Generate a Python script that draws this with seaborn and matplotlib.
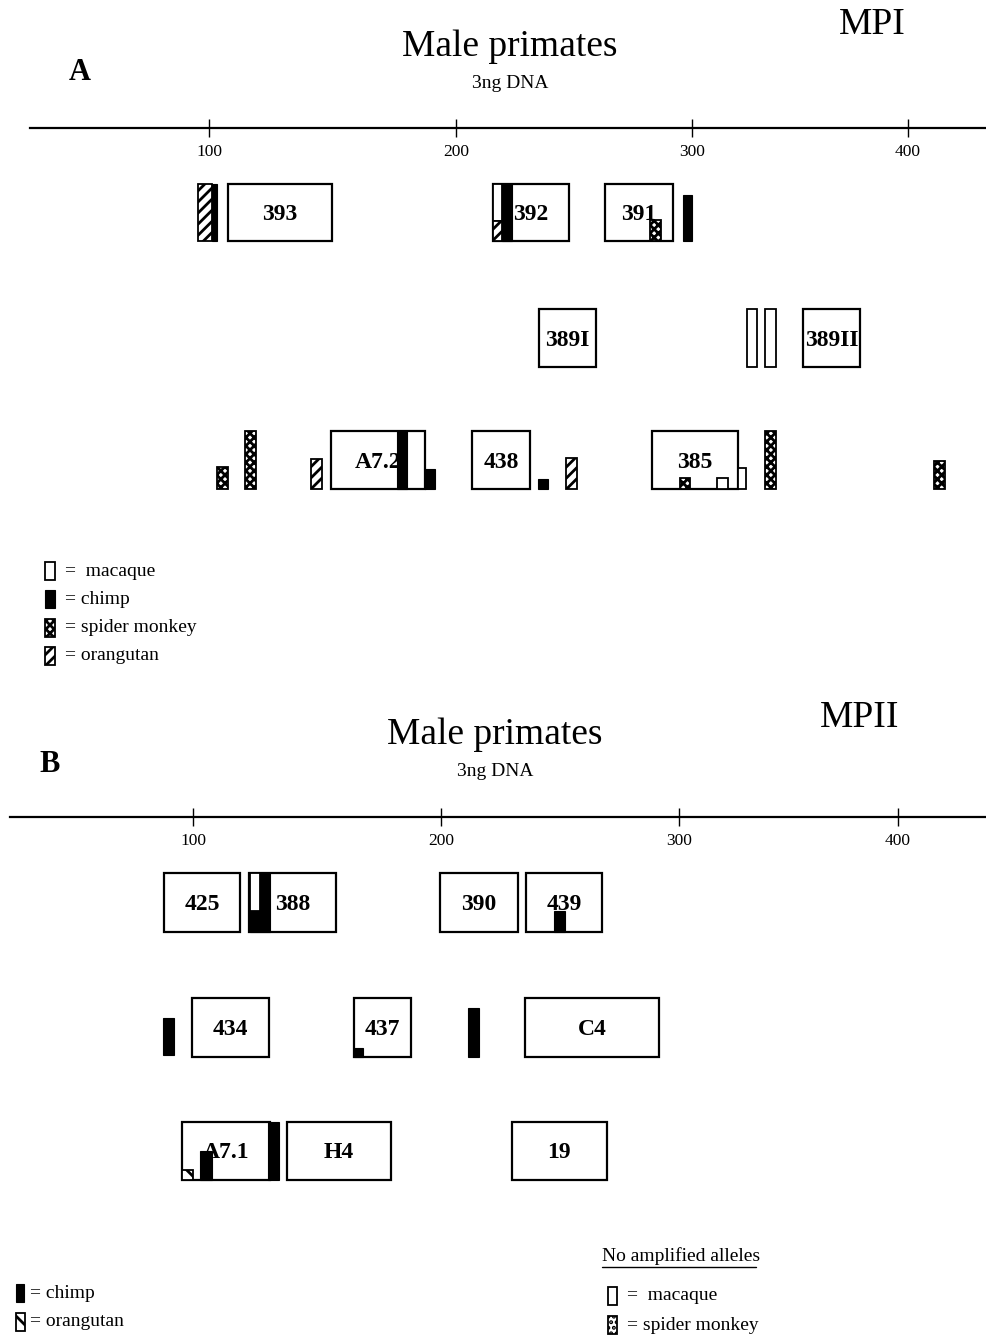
import matplotlib
matplotlib.use("Agg")

import matplotlib.pyplot as plt
import numpy as np
import seaborn as sns
from matplotlib.patches import Rectangle

# --- data -----------------------------------------------------------------
TICKS = [100, 200, 300, 400]

# panel A (MPI): loci with amplified fragments, size in bp
LOCI_A = ["393", "392", "391", "389I", "389II", "A7.2", "438", "385"]
START_A = [107.7, 215.7, 263.1, 235.2, 351.4, 149.4, 206.8, 283.1]
END_A = [149.8, 247.9, 291.9, 259.3, 377.8, 187.4, 231.4, 321.3]
ROW_A = [0, 0, 0, 1, 1, 2, 2, 2]

# panel A: primate alleles
MARK_A_SPECIES = ["orangutan", "chimp", "macaque", "orangutan", "chimp", "spider", "chimp",
                  "macaque", "macaque",
                  "spider", "spider", "orangutan", "chimp", "chimp", "chimp", "orangutan",
                  "spider", "macaque", "macaque", "spider", "spider"]
MARK_A_START = [95.5, 101.2, 215.7, 215.7, 219.5, 282.2, 296.2,
                325.5, 333.8,
                103.2, 114.6, 141.3, 176.1, 187.4, 234.7, 246.6,
                295.0, 311.6, 321.3, 333.8, 412.0]
MARK_A_END = [101.2, 103.2, 219.5, 219.5, 223.7, 286.9, 300.0,
              330.1, 338.9,
              107.7, 119.0, 145.7, 180.2, 191.5, 238.9, 251.3,
              299.2, 316.7, 325.0, 338.9, 417.1]
MARK_A_ROW = [0, 0, 0, 0, 0, 0, 0, 1, 1, 2, 2, 2, 2, 2, 2, 2, 2, 2, 2, 2, 2]
MARK_A_LO = [0, 0, 0.35, 0, 0, 0, 0, 0, 0, 0, 0, 0, 0, 0, 0, 0, 0, 0, 0, 0, 0]
MARK_A_HI = [1, 1, 1, 0.35, 1, 0.36, 0.81, 1, 1,
             0.38, 1, 0.52, 1, 0.35, 0.17, 0.53, 0.19, 0.19, 0.36, 1, 0.48]

# panel B (MPII)
LOCI_B = ["425", "388", "390", "439", "434", "437", "C4", "A7.1", "H4", "19"]
START_B = [88.3, 122.6, 199.6, 235.7, 99.6, 164.9, 235.3, 95.6, 137.9, 229.8]
END_B = [119.0, 157.7, 232.4, 267.6, 130.6, 187.9, 291.6, 131.0, 179.8, 269.7]
ROW_B = [0, 0, 0, 0, 1, 1, 1, 2, 2, 2]

MARK_B_SPECIES = ["chimp", "macaque", "chimp", "chimp", "chimp", "chimp",
                  "orangutan", "chimp", "chimp"]
MARK_B_START = [123.0, 123.0, 247.5, 87.9, 164.9, 211.3, 95.6, 102.8, 130.2]
MARK_B_END = [131.0, 127.0, 252.1, 92.3, 168.5, 215.9, 100.0, 107.7, 134.7]
MARK_B_ROW = [0, 0, 0, 1, 1, 1, 2, 2, 2]
MARK_B_LO = [0, 0.36, 0, 0.03, 0, 0, 0, 0, 0]
MARK_B_HI = [1, 1, 0.36, 0.66, 0.16, 0.83, 0.17, 0.5, 1]

# --- layout (pixels of the 987x1336 page) ---------------------------------
W, H = 987, 1336
SPLIT = 690
TICK_PX_A = [209, 456, 692, 908]   # scanned axis is not quite linear
TICK_PX_B = [193, 441, 679, 898]
ROWS_A = [(184, 241), (309, 367), (431, 489)]
ROWS_B = [(873, 932), (998, 1057), (1122, 1180)]

sns.set_theme(style="white")
plt.rcParams["font.family"] = ["Liberation Serif", "DejaVu Serif"]
plt.rcParams["text.color"] = "black"
plt.rcParams["xtick.color"] = "black"
plt.rcParams["hatch.linewidth"] = 2.0


def style(species, orang_hatch):
    if species == "chimp":
        return dict(facecolor="black", edgecolor="black", linewidth=0.8)
    if species == "macaque":
        return dict(facecolor="white", edgecolor="black", linewidth=1.3)
    if species == "spider":
        return dict(facecolor="white", edgecolor="black", linewidth=1.3, hatch="xxxx")
    return dict(facecolor="white", edgecolor="black", linewidth=1.3, hatch=orang_hatch)


def piecewise(knots_bp, knots_px):
    bp = np.asarray(knots_bp, float)
    px = np.asarray(knots_px, float)
    s0 = (px[1] - px[0]) / (bp[1] - bp[0])
    s1 = (px[-1] - px[-2]) / (bp[-1] - bp[-2])
    bp_ext = np.concatenate([[bp[0] - 1000], bp, [bp[-1] + 1000]])
    px_ext = np.concatenate([[px[0] - 1000 * s0], px, [px[-1] + 1000 * s1]])
    return (lambda x: np.interp(x, bp_ext, px_ext),
            lambda y: np.interp(y, px_ext, bp_ext))


def draw_panel(ax, tick_px, axis_y, axis_x0, y_range, rows,
               loci, starts, ends, loc_rows,
               sp, ms, me, mr, lo, hi, orang_hatch):
    fwd, inv = piecewise(TICKS, tick_px)
    ax.set_xscale("function", functions=(fwd, inv))
    ax.set_xlim(inv(0), inv(W))
    ax.set_ylim(y_range[1], y_range[0])
    ax.set_facecolor("none")

    for side in ["top", "left", "right"]:
        ax.spines[side].set_visible(False)
    sp_b = ax.spines["bottom"]
    sp_b.set_position(("data", axis_y))
    sp_b.set_bounds(inv(axis_x0), inv(W))
    sp_b.set_linewidth(1.6)
    sp_b.set_color("black")
    ax.set_yticks([])
    ax.set_xticks(TICKS)
    ax.set_xticklabels([str(t) for t in TICKS])
    ax.tick_params(axis="x", direction="inout", length=13, width=1.0,
                   colors="black", labelsize=12.5, pad=5, bottom=True)

    tops = np.array([rows[r][0] for r in loc_rows])
    heights = np.array([rows[r][1] - rows[r][0] for r in loc_rows])
    starts = np.array(starts)
    ends = np.array(ends)
    ax.bar(starts, heights, width=ends - starts, bottom=tops, align="edge",
           facecolor="white", edgecolor="black", linewidth=1.6, zorder=2)
    for name, s, e, t, h in zip(loci, starts, ends, tops, heights):
        cx = inv((fwd(s) + fwd(e)) / 2)
        ax.text(cx, t + h / 2 + 2, name, ha="center", va="center", color="black",
                fontsize=17, fontweight="bold", zorder=3)

    for species, s, e, r, l, u in zip(sp, ms, me, mr, lo, hi):
        top, bot = rows[r]
        h = bot - top
        ax.bar([s], [(u - l) * h], width=[e - s], bottom=[bot - u * h],
               align="edge", zorder=4, **style(species, orang_hatch))


fig = plt.figure(figsize=(W / 100, H / 100), dpi=100)
ax_a = fig.add_axes([0, 1 - SPLIT / H, 1, SPLIT / H])
ax_b = fig.add_axes([0, 0, 1, 1 - SPLIT / H])

draw_panel(ax_a, TICK_PX_A, 128, 30, (0, SPLIT), ROWS_A,
           LOCI_A, START_A, END_A, ROW_A,
           MARK_A_SPECIES, MARK_A_START, MARK_A_END, MARK_A_ROW, MARK_A_LO, MARK_A_HI, "///")
draw_panel(ax_b, TICK_PX_B, 817, 10, (SPLIT, H), ROWS_B,
           LOCI_B, START_B, END_B, ROW_B,
           MARK_B_SPECIES, MARK_B_START, MARK_B_END, MARK_B_ROW, MARK_B_LO, MARK_B_HI, "\\\\")

# overlay for titles and legends, in page pixels
ov = fig.add_axes([0, 0, 1, 1])
ov.set_xlim(0, W)
ov.set_ylim(H, 0)
ov.axis("off")
ov.patch.set_alpha(0)

ov.text(80, 72, "A", ha="center", va="center", fontsize=22, fontweight="bold")
ov.text(510, 47, "Male primates", ha="center", va="center", fontsize=27)
ov.text(510, 84, "3ng DNA", ha="center", va="center", fontsize=14)
ov.text(872, 25, "MPI", ha="center", va="center", fontsize=27)

ov.text(50, 765, "B", ha="center", va="center", fontsize=22, fontweight="bold")
ov.text(495, 735, "Male primates", ha="center", va="center", fontsize=27)
ov.text(495, 772, "3ng DNA", ha="center", va="center", fontsize=14)
ov.text(860, 718, "MPII", ha="center", va="center", fontsize=27)


def swatch(x, yc, species, orang_hatch, w=10, h=18):
    ov.add_patch(Rectangle((x, yc - h / 2), w, h, **style(species, orang_hatch)))


legend_a = [("macaque", "=  macaque"), ("chimp", "= chimp"),
            ("spider", "= spider monkey"), ("orangutan", "= orangutan")]
for (species, label), yc in zip(legend_a, [571, 599, 628, 656]):
    swatch(45, yc, species, "///")
    ov.text(65, yc, label, ha="left", va="center", fontsize=14)

swatch(16, 1293, "chimp", "\\\\", w=8)
ov.text(30, 1293, "= chimp", ha="left", va="center", fontsize=14)
swatch(16, 1322, "orangutan", "\\", w=9)
ov.text(30, 1322, "= orangutan", ha="left", va="center", fontsize=14)

ov.text(602, 1256, "No amplified alleles", ha="left", va="center", fontsize=14)
ov.plot([602, 756], [1267, 1267], color="black", linewidth=1.0)
swatch(608, 1296, "macaque", "\\\\", w=9)
ov.text(627, 1296, "=  macaque", ha="left", va="center", fontsize=14)
ov.add_patch(Rectangle((608, 1316), 9, 18, facecolor="white", edgecolor="black",
                       linewidth=1.3, hatch="..."))
ov.text(627, 1325, "= spider monkey", ha="left", va="center", fontsize=14)

fig.savefig("out.png", dpi=100)
